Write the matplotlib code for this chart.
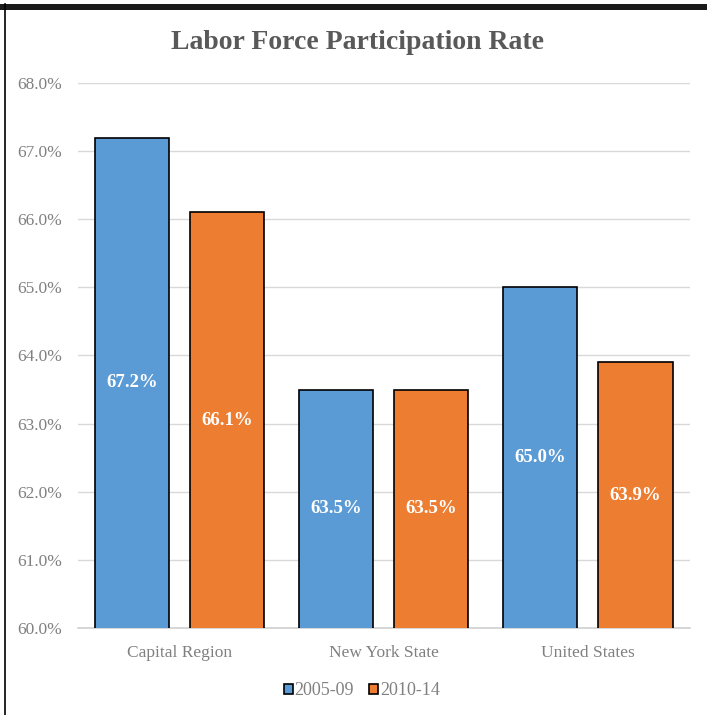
import matplotlib.pyplot as plt
import matplotlib.patches as mpatches
from matplotlib.lines import Line2D
import numpy as np

regions = ['Capital Region', 'New York State', 'United States']
rate_0509 = [67.2, 63.5, 65.0]
rate_1014 = [66.1, 63.5, 63.9]
series_names = ['2005-09', '2010-14']

blue = '#5B9BD5'
orange = '#ED7D31'
gray_text = '#808080'

plt.rcParams['font.family'] = ['Liberation Serif', 'DejaVu Serif']

fig = plt.figure(figsize=(7.07, 7.15), dpi=100)
ax = fig.add_axes([0.110, 0.1217, 0.866, 0.7622])

x = np.arange(len(regions))
w = 0.363
off = 0.233
b1 = ax.bar(x - off, rate_0509, w, color=blue, edgecolor='black', linewidth=1.2, zorder=3)
b2 = ax.bar(x + off, rate_1014, w, color=orange, edgecolor='black', linewidth=1.2, zorder=3)

ymin = 60.0
for bars in (b1, b2):
    for r in bars:
        h = r.get_height()
        ax.text(r.get_x() + r.get_width() / 2, (ymin + h) / 2, f'{h:.1f}%',
                ha='center', va='center', color='white', fontsize=13.5, fontweight='bold', zorder=4)

ax.set_ylim(60, 68)
ax.set_xlim(-0.5, 2.5)
ax.set_yticks(np.arange(60, 68.5, 1))
ax.set_yticklabels([f'{v:.1f}%' for v in np.arange(60, 68.5, 1)])
ax.set_xticks(x)
ax.set_xticklabels(regions)
ax.tick_params(axis='y', length=0, colors=gray_text, labelsize=12.5, pad=11)
ax.tick_params(axis='x', length=0, colors=gray_text, labelsize=12.5, pad=12)
ax.yaxis.grid(True, color='#d9d9d9', linewidth=1, zorder=0)
for s in ['top', 'right', 'left']:
    ax.spines[s].set_visible(False)
ax.spines['bottom'].set_color('#d0d0d0')
ax.spines['bottom'].set_linewidth(1.2)

fig.text(0.505, 0.94, 'Labor Force Participation Rate', ha='center', va='center',
         fontsize=20, fontweight='bold', color='#595959')

handles = [mpatches.Patch(facecolor=blue, edgecolor='black', linewidth=1.2),
           mpatches.Patch(facecolor=orange, edgecolor='black', linewidth=1.2)]
leg = fig.legend(handles, series_names, loc='center', bbox_to_anchor=(0.512, 0.034),
                 ncol=2, frameon=False, fontsize=13, handlelength=0.5, handleheight=0.5,
                 handletextpad=0.1, columnspacing=0.85, borderpad=0, borderaxespad=0)
for t in leg.get_texts():
    t.set_color(gray_text)

# outer frame: heavy top bar and thin left edge
fig.add_artist(mpatches.Rectangle((0, 1 - 10 / 715), 1, 6 / 715, transform=fig.transFigure,
                                  facecolor='#1a1a1a', edgecolor='none'))
fig.add_artist(Line2D([4.5 / 707, 4.5 / 707], [0, 1 - 4 / 715], transform=fig.transFigure,
                      color='black', linewidth=1.2))

fig.savefig('out.png', dpi=100)
